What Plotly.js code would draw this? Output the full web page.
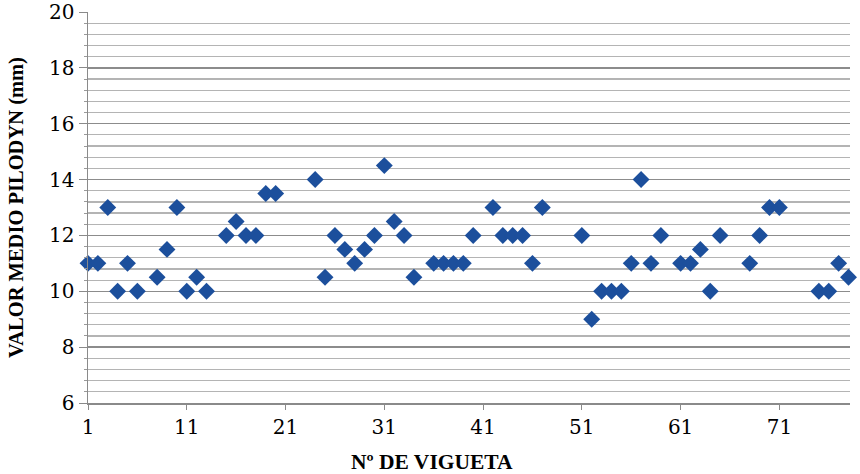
<!DOCTYPE html>
<html>
<head>
<meta charset="utf-8">
<script src="https://cdn.plot.ly/plotly-3.0.1.min.js"></script>
<style>
  html, body { margin: 0; padding: 0; background: #fff; }
  #chart { width: 860px; height: 474px; }
</style>
</head>
<body>
<div id="chart"></div>
<script>
"use strict"

// Nº de vigueta (missing numbers have no reading)
var vigueta = [1, 2, 3, 4, 5, 6, 8, 9, 10, 11, 12, 13, 15, 16, 17, 18, 19, 20,
    24, 25, 26, 27, 28, 29, 30, 31, 32, 33, 34, 36, 37, 38, 39, 40,
    42, 43, 44, 45, 46, 47, 51, 52, 53, 54, 55, 56, 57, 58, 59,
    61, 62, 63, 64, 65, 68, 69, 70, 71, 75, 76, 77, 78];

// valor medio pilodyn (mm)
var pilodyn = [11, 11, 13, 10, 11, 10, 10.5, 11.5, 13, 10, 10.5, 10, 12, 12.5, 12, 12, 13.5, 13.5,
    14, 10.5, 12, 11.5, 11, 11.5, 12, 14.5, 12.5, 12, 10.5, 11, 11, 11, 11, 12,
    13, 12, 12, 12, 11, 13, 12, 9, 10, 10, 10, 11, 14, 11, 12,
    11, 11, 11.5, 10, 12, 11, 12, 13, 13, 10, 10, 11, 10.5];

var xTitle = "Nº DE VIGUETA";
var yTitle = "VALOR MEDIO PILODYN (mm)";

var tickFont = {family: "DejaVu Serif", size: 20, color: "#000"};

var trace = {
    x: vigueta,
    y: pilodyn,
    type: "scatter",
    mode: "markers",
    marker: {symbol: "diamond", size: 13, color: "#1c4f9c", line: {width: 0}},
    cliponaxis: false,
    hoverinfo: "x+y"
};

var layout = {
    width: 860,
    height: 474,
    margin: {l: 88, r: 10, t: 12, b: 71},
    paper_bgcolor: "#fff",
    plot_bgcolor: "#fff",
    showlegend: false,
    xaxis: {
        range: [1, 78.15],
        tickmode: "linear",
        tick0: 1,
        dtick: 10,
        showgrid: false,
        zeroline: false,
        showline: true,
        linecolor: "#8a8a8a",
        linewidth: 1.5,
        ticks: "outside",
        ticklen: 5,
        tickcolor: "#8a8a8a",
        tickfont: tickFont
    },
    yaxis: {
        range: [6, 20],
        tickmode: "linear",
        tick0: 6,
        dtick: 2,
        showgrid: true,
        gridcolor: "#8c8c8c",
        gridwidth: 1.5,
        zeroline: false,
        showline: true,
        linecolor: "#8a8a8a",
        linewidth: 1.5,
        ticks: "outside",
        ticklen: 8,
        tickcolor: "#8a8a8a",
        tickfont: tickFont,
        minor: {
            tick0: 6,
            dtick: 0.4,
            showgrid: true,
            gridcolor: "#b4b4b4",
            gridwidth: 1.2,
            ticks: "outside",
            ticklen: 3,
            tickcolor: "#9a9a9a"
        },
        title: {
            text: yTitle,
            font: {family: "Liberation Serif", size: 20.5, color: "#000", weight: "bold"},
            standoff: 20
        }
    },
    // the x title sits left of the axis centre in the original
    annotations: [{
        text: xTitle,
        xref: "paper", yref: "paper",
        x: 0.451, y: -0.152,
        xanchor: "center", yanchor: "middle",
        showarrow: false,
        font: {family: "Liberation Serif", size: 21.5, color: "#000", weight: "bold"}
    }]
};

Plotly.newPlot("chart", [trace], layout, {displayModeBar: false, staticPlot: true});
</script>
</body>
</html>
